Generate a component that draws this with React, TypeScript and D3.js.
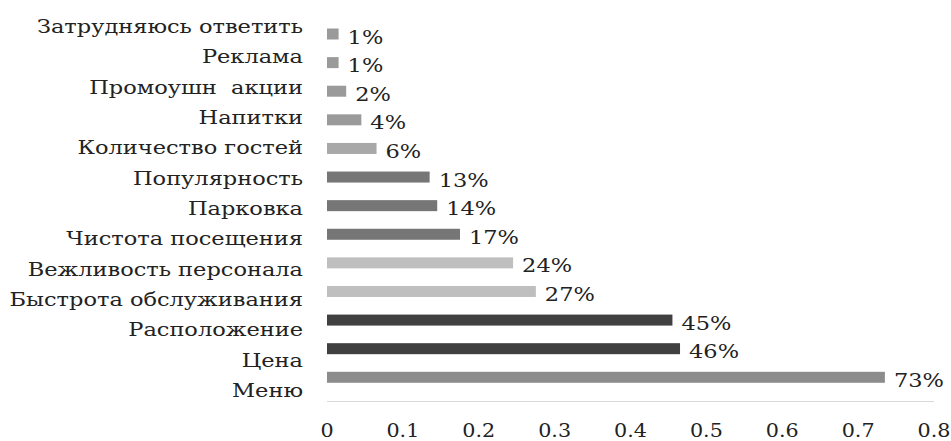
import React from "react";
import * as d3 from "d3";

const categories = [
  "Затрудняюсь ответить",
  "Реклама",
  "Промоушн  акции",
  "Напитки",
  "Количество гостей",
  "Популярность",
  "Парковка",
  "Чистота посещения",
  "Вежливость персонала",
  "Быстрота обслуживания",
  "Расположение",
  "Цена",
  "Меню",
];
const values = [0.01, 0.01, 0.02, 0.04, 0.06, 0.13, 0.14, 0.17, 0.24, 0.27, 0.45, 0.46, 0.73];
const valueLabels = ["1%", "1%", "2%", "4%", "6%", "13%", "14%", "17%", "24%", "27%", "45%", "46%", "73%"];
const barColors = [
  "#9a9a9a", "#9a9a9a", "#9a9a9a", "#9a9a9a", "#a8a8a8",
  "#767676", "#767676", "#767676",
  "#bfbfbf", "#bfbfbf",
  "#404040", "#404040",
  "#8c8c8c",
];
const xTicks = [0, 0.1, 0.2, 0.3, 0.4, 0.5, 0.6, 0.7, 0.8];

const W = 951;
const H = 441;
const SX = 1.25;
const FONT = "'DejaVu Serif'";

export default function App() {
  const x = d3.scaleLinear().domain([0, 0.8]).range([327, 934]);
  const yBar = d3.scaleBand<string>().domain(categories).range([19.7, 391.6]).paddingInner(0.6).paddingOuter(0.3);
  const yLab = d3.scalePoint<string>().domain(categories).range([33, 397]);
  const bw = 11;

  const stretched = (tx: number, ty: number, s = SX) => `translate(${tx},${ty}) scale(${s},1)`;
  const ts: React.CSSProperties = { fontFamily: FONT, fontSize: "18px", whiteSpace: "pre" };

  return (
    <svg width={W} height={H} style={{ position: "absolute", left: 0, top: 0, background: "#fff" }}>
      <rect x={0} y={0} width={W} height={H} fill="#fff" />
      <line x1={x(0)} x2={x(0.8)} y1={401.5} y2={401.5} stroke="#d9d9d9" strokeWidth={1.2} />
      {xTicks.map((t) => (
        <text key={t} transform={stretched(x(t), 437, 1.15)} textAnchor="middle" style={ts} fill="#222">
          {d3.format("")(t)}
        </text>
      ))}
      {categories.map((c, i) => {
        const cy = (yBar(c) as number) + yBar.bandwidth() / 2;
        return (
          <g key={c}>
            <rect x={x(0)} y={cy - bw / 2} width={x(values[i]) - x(0) + 4} height={bw} fill={barColors[i]} />
            <text transform={stretched(x(values[i]) + 13, cy + 9.5)} style={ts} fill="#222">
              {valueLabels[i]}
            </text>
            <text transform={stretched(303, yLab(c) as number)} textAnchor="end" style={ts} fill="#222">
              {c}
            </text>
          </g>
        );
      })}
    </svg>
  );
}
